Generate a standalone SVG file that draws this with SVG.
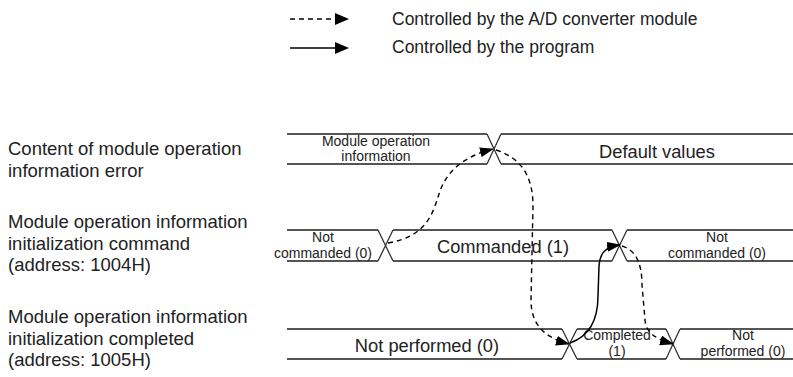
<svg xmlns="http://www.w3.org/2000/svg" width="793" height="377" viewBox="0 0 793 377">
<style>
text{font-family:"Liberation Sans",Arial,sans-serif;fill:#222}
.leg{font-size:17.5px}
.lbl{font-size:18.5px}
.big{font-size:18.3px;text-anchor:middle}
.sm{font-size:14px;text-anchor:middle}
.sig{fill:none;stroke:#555;stroke-width:2}
.x{fill:none;stroke:#333;stroke-width:1.3}
.dash{fill:none;stroke:#000;stroke-width:1.4;stroke-dasharray:5,4}
.solid{fill:none;stroke:#000;stroke-width:1.5}
</style>
<defs>
<marker id="ah" viewBox="0 0 14 10" refX="13" refY="5" markerWidth="14" markerHeight="10" markerUnits="userSpaceOnUse" orient="auto">
<path d="M0,0 L14,5 L0,10 Z" fill="#000"/>
</marker>
</defs>
<rect width="793" height="377" fill="#fff"/>

<g id="legend">
<path class="dash" d="M290,19 H336"/>
<path d="M335,13 L349,19 L335,25 Z" fill="#000"/>
<path class="solid" d="M290,48 H336"/>
<path d="M335,42 L349,48 L335,54 Z" fill="#000"/>
<text class="leg" x="392" y="25">Controlled by the A/D converter module</text>
<text class="leg" x="392" y="53">Controlled by the program</text>
</g>

<g id="labels">
<text class="lbl" x="8" y="155">Content of module operation</text>
<text class="lbl" x="8" y="177">information error</text>
<text class="lbl" x="8" y="228">Module operation information</text>
<text class="lbl" x="8" y="250">initialization command</text>
<text class="lbl" x="8" y="271">(address: 1004H)</text>
<text class="lbl" x="8" y="323">Module operation information</text>
<text class="lbl" x="8" y="345">initialization completed</text>
<text class="lbl" x="8" y="366">(address: 1005H)</text>
</g>

<g id="row1">
<path class="sig" d="M287,134 H487 M287,164 H487 M501,134 H793 M501,164 H793"/>
<path class="x" d="M487,134 L501,164 M501,134 L487,164"/>
<text class="sm" x="376" y="146">Module operation</text>
<text class="sm" x="376" y="161">information</text>
<text class="big" x="657" y="158">Default values</text>
</g>

<g id="row2">
<path class="sig" d="M287,230 H378 M287,261 H378 M393,230 H612 M393,261 H612 M627,230 H793 M627,261 H793"/>
<path class="x" d="M378,230 L393,261 M393,230 L378,261 M612,230 L627,261 M627,230 L612,261"/>
<text class="sm" x="323" y="242">Not</text>
<text class="sm" x="323" y="258">commanded (0)</text>
<text class="big" x="503" y="253">Commanded (1)</text>
<text class="sm" x="717" y="242">Not</text>
<text class="sm" x="717" y="258">commanded (0)</text>
</g>

<g id="row3">
<path class="sig" d="M287,329 H562 M287,359 H562 M577,329 H666 M577,359 H666 M680,329 H793 M680,359 H793"/>
<path class="x" d="M562,329 L577,359 M577,329 L562,359 M666,329 L680,359 M680,329 L666,359"/>
<text class="big" x="427" y="352">Not performed (0)</text>
<text class="sm" x="617" y="340">Completed</text>
<text class="sm" x="617" y="356">(1)</text>
<text class="sm" x="743" y="340">Not</text>
<text class="sm" x="743" y="356">performed (0)</text>
</g>

<g id="connectors">
<path class="dash" marker-end="url(#ah)" d="M388,243 C428,236 433,212 439,194 C446,172 462,157 493,149"/>
<path class="dash" marker-end="url(#ah)" d="M496,150 C521,158 533,176 533,206 L531,300 C531,326 546,338 569,344"/>
<path class="solid" marker-end="url(#ah)" d="M570,343 C590,336 598,320 598,296 L599,266 C600,252 606,247 620,245"/>
<path class="dash" marker-end="url(#ah)" d="M622,246 C635,250 642,262 642,285 L645,320 C646,333 656,339 673,344"/>
</g>
</svg>
